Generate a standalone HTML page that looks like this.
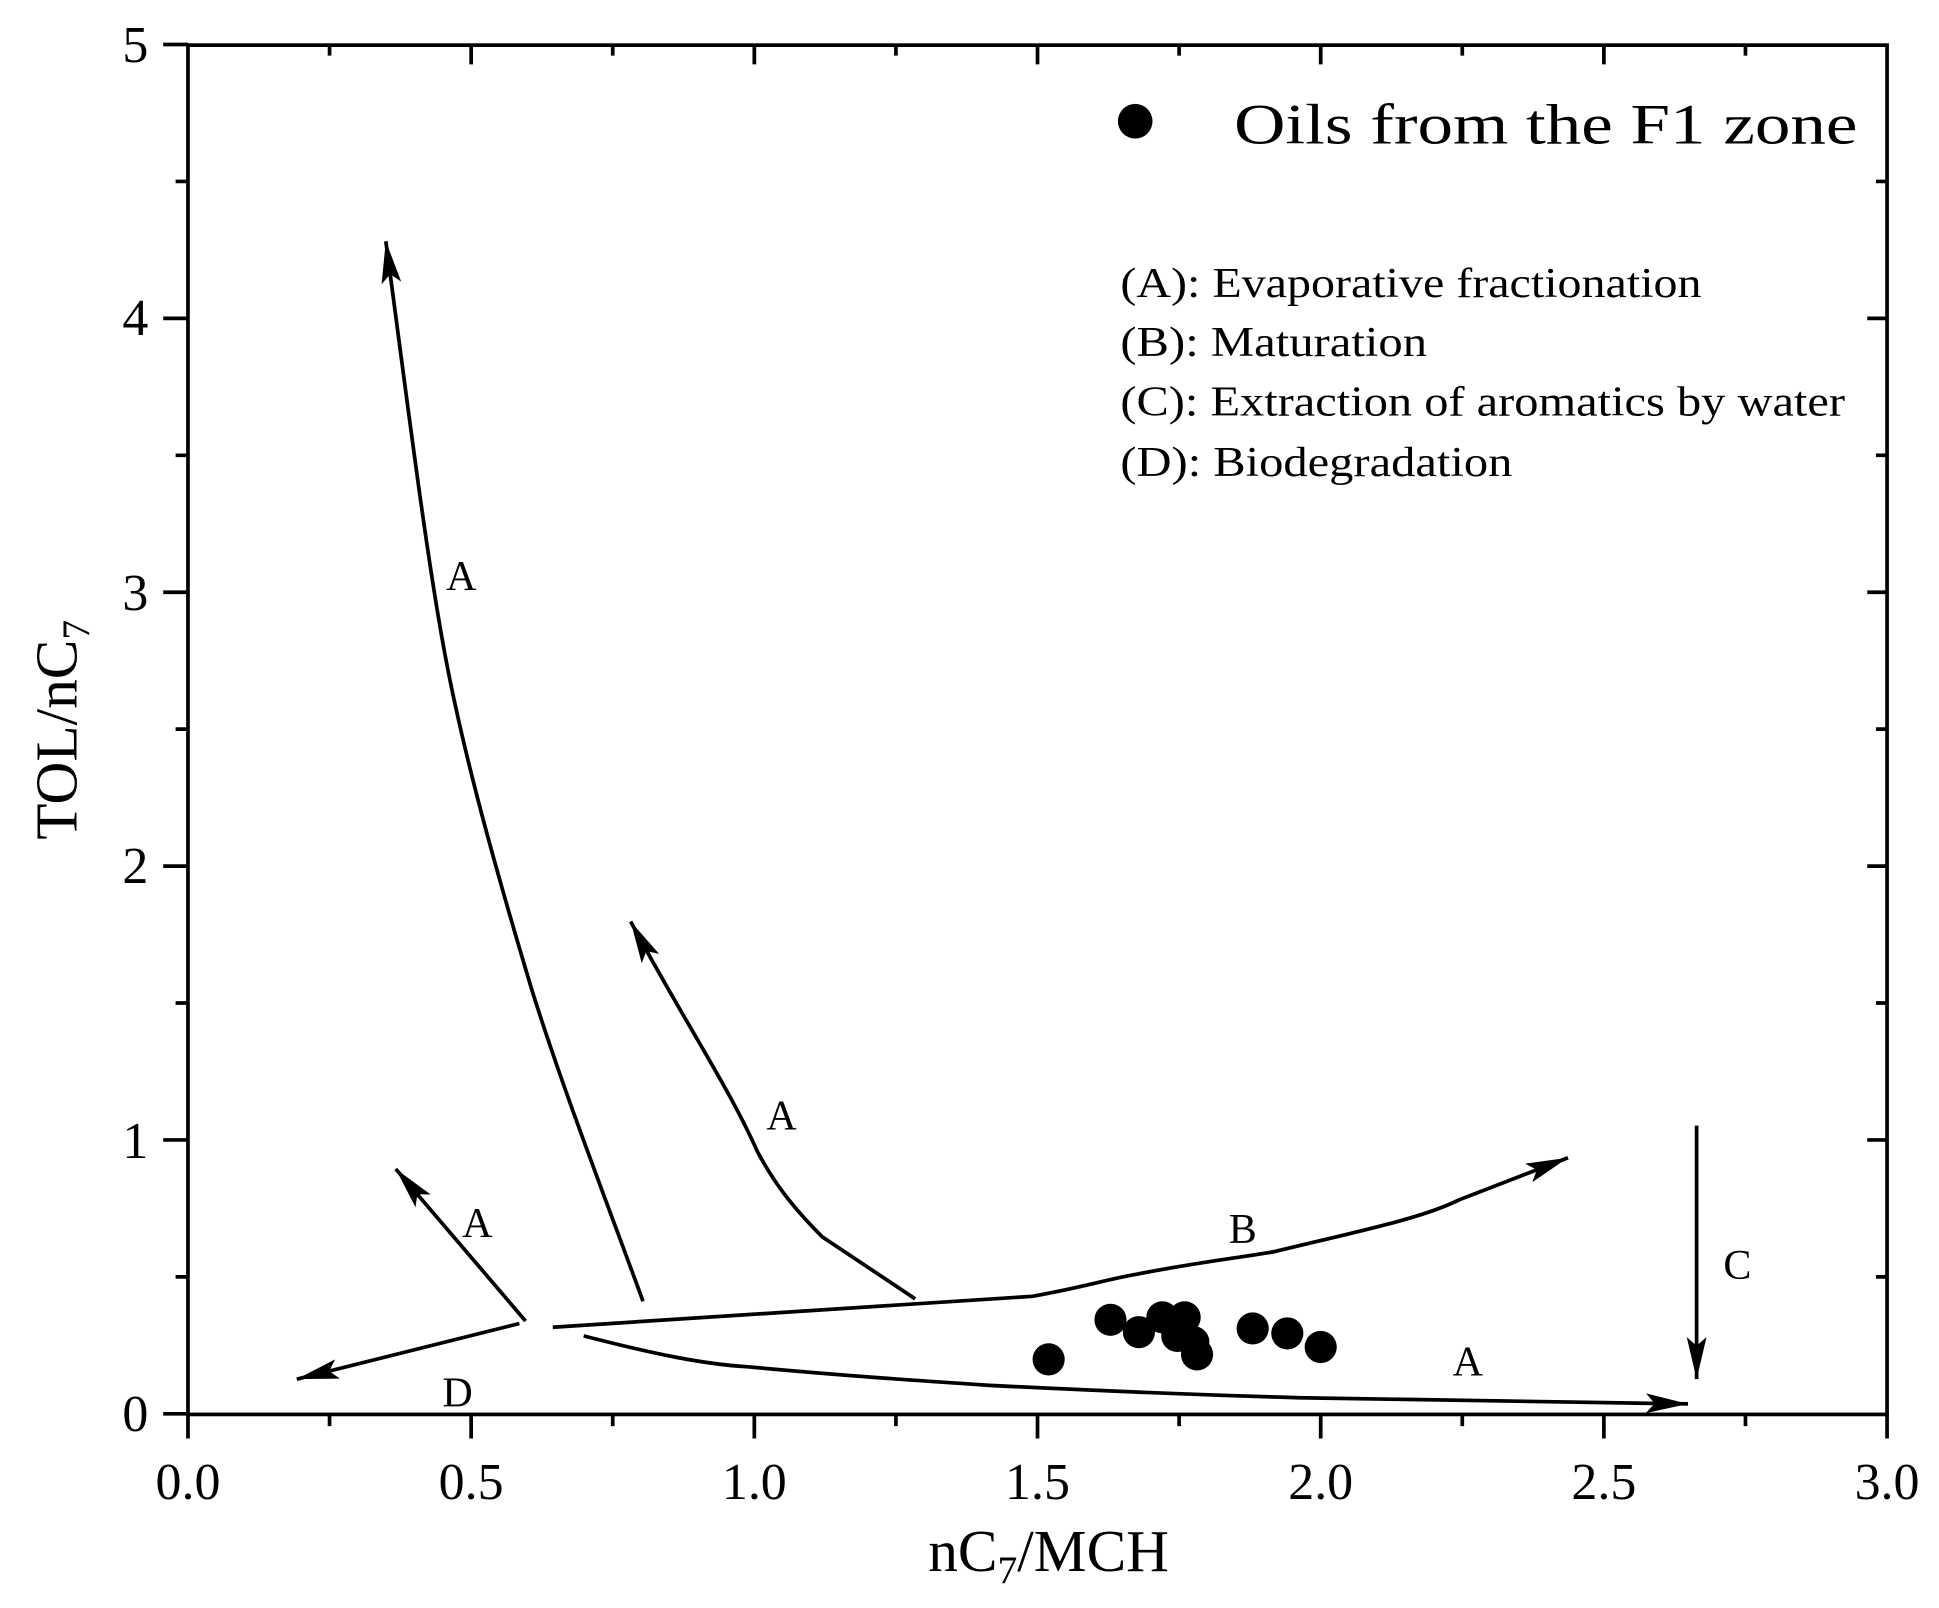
<!DOCTYPE html>
<html><head><style>html,body{margin:0;padding:0;background:#fff}svg{display:block}</style></head>
<body>
<svg width="1939" height="1608" viewBox="0 0 1568 1300" preserveAspectRatio="none" xmlns="http://www.w3.org/2000/svg" font-family="Liberation Serif, serif">
<defs>
<marker id="a" viewBox="0 0 34 16" refX="34" refY="8" markerWidth="34" markerHeight="16" orient="auto" markerUnits="userSpaceOnUse"><path d="M0,0 L34,8 L0,16 L7,8 Z" fill="#000"/></marker>
</defs>
<g stroke="#000" fill="none">
<rect x="152" y="36.5" width="1374" height="1107" stroke-width="3"/>
<g stroke-width="3">
<path d="M152,1143v20M381,1143v20M610,1143v20M839,1143v20M1068,1143v20M1297,1143v20M1526,1143v20"/>
<path d="M266.5,1143v10M495.5,1143v10M724.5,1143v10M953.5,1143v10M1182.5,1143v10M1411.5,1143v10"/>
<path d="M381,36v16M610,36v16M839,36v16M1068,36v16M1297,36v16"/>
<path d="M266.5,36v9M495.5,36v9M724.5,36v9M953.5,36v9M1182.5,36v9M1411.5,36v9"/>
<path d="M152,1143h-20M152,921.6h-20M152,700.2h-20M152,478.8h-20M152,257.4h-20M152,36h-20"/>
<path d="M152,1032.3h-10M152,810.9h-10M152,589.5h-10M152,368.1h-10M152,146.7h-10"/>
<path d="M1526,921.6h-16M1526,700.2h-16M1526,478.8h-16M1526,257.4h-16"/>
<path d="M1526,1032.3h-9M1526,810.9h-9M1526,589.5h-9M1526,368.1h-9M1526,146.7h-9"/>
</g>
<g stroke-width="3" marker-end="url(#a)">
<path d="M520,1052 C490,970 455,880 430,800 C400,700 375,610 360,530 C345,450 330,330 312,195"/>
<path d="M740,1050 L665,1000 C640,975 625,955 612,930 C590,880 550,820 510,745"/>
<path d="M425,1068 L320,945"/>
<path d="M420,1070 L240,1115"/>
<path d="M447,1073 L835,1048 C880,1040 900,1033 920,1030 C960,1022 1000,1017 1030,1012 C1100,995 1150,985 1180,970 L1268,936"/>
<path d="M472,1080 C530,1095 570,1103 605,1105 C680,1112 740,1116 800,1120 C900,1125 980,1128 1050,1130 C1200,1133 1300,1134 1365,1135"/>
<path d="M1372,910 L1372,1115"/>
</g>
</g>
<g fill="#000">
<circle cx="918" cy="98" r="14"/>
<circle cx="848" cy="1099" r="13"/><circle cx="898" cy="1067" r="13"/><circle cx="921" cy="1077" r="13"/>
<circle cx="940" cy="1065" r="13"/><circle cx="958" cy="1065" r="13"/><circle cx="952" cy="1080" r="13"/>
<circle cx="965" cy="1085" r="13"/><circle cx="968" cy="1095" r="13"/><circle cx="1013" cy="1074" r="13"/>
<circle cx="1041" cy="1078" r="13"/><circle cx="1068" cy="1089" r="13"/>
</g>
<g fill="#000" font-size="46">
<text x="998" y="116" textLength="504" lengthAdjust="spacingAndGlyphs">Oils from the F1 zone</text>
</g>
<g fill="#000" font-size="34">
<text x="906" y="240" textLength="470" lengthAdjust="spacingAndGlyphs">(A): Evaporative fractionation</text>
<text x="906" y="288" textLength="248" lengthAdjust="spacingAndGlyphs">(B): Maturation</text>
<text x="906" y="336" textLength="586" lengthAdjust="spacingAndGlyphs">(C): Extraction of aromatics by water</text>
<text x="906" y="385" textLength="317" lengthAdjust="spacingAndGlyphs">(D): Biodegradation</text>
<text x="373" y="477" text-anchor="middle">A</text>
<text x="632" y="913" text-anchor="middle">A</text>
<text x="386" y="1000" text-anchor="middle">A</text>
<text x="370" y="1137" text-anchor="middle">D</text>
<text x="1005" y="1005" text-anchor="middle">B</text>
<text x="1405" y="1034" text-anchor="middle">C</text>
<text x="1187" y="1112" text-anchor="middle">A</text>
</g>
<g fill="#000" font-size="42">
<g text-anchor="end">
<text x="120" y="1157">0</text><text x="120" y="936">1</text><text x="120" y="714">2</text>
<text x="120" y="493">3</text><text x="120" y="271">4</text><text x="120" y="50">5</text>
</g>
<g text-anchor="middle">
<text x="152" y="1212">0.0</text><text x="381" y="1212">0.5</text><text x="610" y="1212">1.0</text>
<text x="839" y="1212">1.5</text><text x="1068" y="1212">2.0</text><text x="1297" y="1212">2.5</text><text x="1526" y="1212">3.0</text>
</g>
</g>
<g fill="#000" font-size="48">
<text x="848" y="1270" text-anchor="middle">nC<tspan font-size="32" dy="10">7</tspan><tspan dy="-10">/MCH</tspan></text>
<text transform="translate(62,590) rotate(-90)" text-anchor="middle">TOL/nC<tspan font-size="32" dy="10">7</tspan></text>
</g>
</svg>
</body></html>
